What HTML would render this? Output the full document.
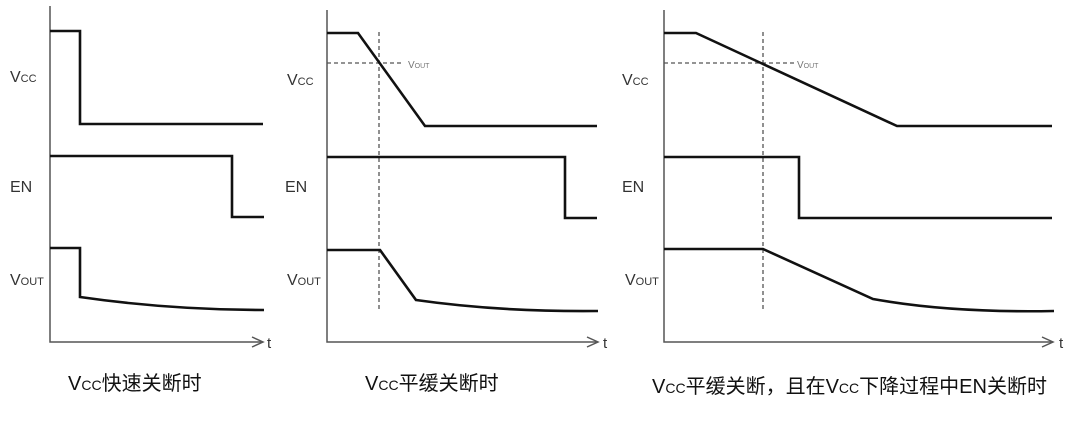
<!DOCTYPE html>
<html><head><meta charset="utf-8"><style>
html,body{margin:0;padding:0;background:#fff;}
svg{display:block;}
text{font-family:"Liberation Sans","Noto Sans CJK SC",sans-serif;}
</style></head><body>
<svg width="1081" height="437" viewBox="0 0 1081 437" xmlns="http://www.w3.org/2000/svg">
<g fill="none" stroke="#555" stroke-width="1.5">
<path d="M50,6 V342 H262"/><path d="M252,337 L263,342 L252,347"/>
<path d="M327,10 V342 H597"/><path d="M587,337 L598,342 L587,347"/>
<path d="M664,10 V342 H1052"/><path d="M1042,337 L1053,342 L1042,347"/>
</g>
<g fill="none" stroke="#555" stroke-width="1.3" stroke-dasharray="4,3">
<path d="M327,63 H402"/><path d="M379,32 V312"/>
<path d="M664,63 H795"/><path d="M763,32 V312"/>
</g>
<g fill="none" stroke="#111" stroke-width="2.6">
<path d="M50,31 H80 V124 H263"/>
<path d="M50,156 H232 V217 H264"/>
<path d="M50,248 H80 V297 Q170,310 264,310"/>
<path d="M327,33 H358 L425,126 H597"/>
<path d="M327,157 H565 V218 H597"/>
<path d="M327,250 H380 L416,300 Q500,312 598,311"/>
<path d="M664,33 H696 L897,126 H1052"/>
<path d="M664,157 H799 V218 H1052"/>
<path d="M664,249 H763 L873,299 Q950,313 1054,311"/>
</g>
<g fill="#333" font-size="16">
<text x="10" y="82">V<tspan font-size="11">CC</tspan></text>
<text x="10" y="192">EN</text>
<text x="10" y="285">V<tspan font-size="11">OUT</tspan></text>
<text x="287" y="85">V<tspan font-size="11">CC</tspan></text>
<text x="285" y="192">EN</text>
<text x="287" y="285">V<tspan font-size="11">OUT</tspan></text>
<text x="622" y="85">V<tspan font-size="11">CC</tspan></text>
<text x="622" y="192">EN</text>
<text x="625" y="285">V<tspan font-size="11">OUT</tspan></text>
<text x="267" y="348" font-size="15">t</text>
<text x="603" y="348" font-size="15">t</text>
<text x="1059" y="348" font-size="15">t</text>
</g>
<g fill="#777" font-size="10">
<text x="408" y="68">V<tspan font-size="7">OUT</tspan></text>
<text x="797" y="68">V<tspan font-size="7">OUT</tspan></text>
</g>
<g fill="#111" font-size="20">
<text x="68" y="390">V<tspan font-size="14">CC</tspan>快速关断时</text>
<text x="365" y="390">V<tspan font-size="14">CC</tspan>平缓关断时</text>
<text x="652" y="393">V<tspan font-size="14">CC</tspan>平缓关断，且在V<tspan font-size="14">CC</tspan>下降过程中EN关断时</text>
</g>
</svg>
</body></html>
